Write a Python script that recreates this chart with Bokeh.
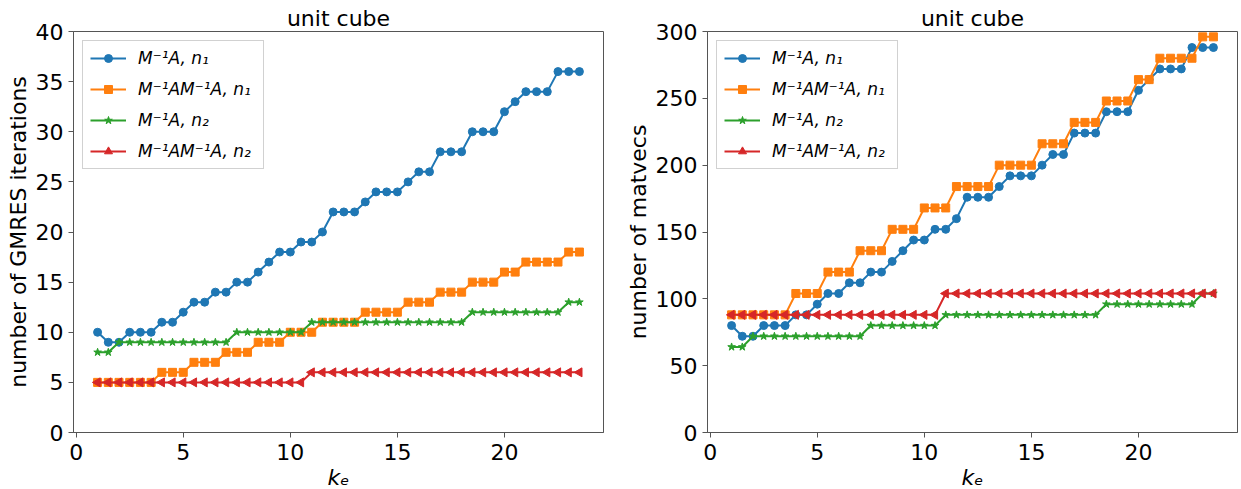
import math
from bokeh.plotting import figure
from bokeh.layouts import row
from bokeh.models import Range1d, FixedTicker, Legend, LegendItem
from bokeh.embed import file_html
from bokeh.resources import INLINE

# ---------------- data ----------------
ke = [1.0, 1.5, 2.0, 2.5, 3.0, 3.5, 4.0, 4.5, 5.0, 5.5, 6.0, 6.5, 7.0, 7.5, 8.0, 8.5,
      9.0, 9.5, 10.0, 10.5, 11.0, 11.5, 12.0, 12.5, 13.0, 13.5, 14.0, 14.5, 15.0, 15.5,
      16.0, 16.5, 17.0, 17.5, 18.0, 18.5, 19.0, 19.5, 20.0, 20.5, 21.0, 21.5, 22.0, 22.5,
      23.0, 23.5]

# left panel: number of GMRES iterations
gmres_A_n1 = [10, 9, 9, 10, 10, 10, 11, 11, 12, 13, 13, 14, 14, 15, 15, 16, 17, 18, 18, 19,
              19, 20, 22, 22, 22, 23, 24, 24, 24, 25, 26, 26, 28, 28, 28, 30, 30, 30, 32, 33,
              34, 34, 34, 36, 36, 36]
gmres_AA_n1 = [5, 5, 5, 5, 5, 5, 6, 6, 6, 7, 7, 7, 8, 8, 8, 9, 9, 9, 10, 10,
               10, 11, 11, 11, 11, 12, 12, 12, 12, 13, 13, 13, 14, 14, 14, 15, 15, 15, 16, 16,
               17, 17, 17, 17, 18, 18]
gmres_A_n2 = [8, 8, 9, 9, 9, 9, 9, 9, 9, 9, 9, 9, 9, 10, 10, 10, 10, 10, 10, 10,
              11, 11, 11, 11, 11, 11, 11, 11, 11, 11, 11, 11, 11, 11, 11, 12, 12, 12, 12, 12,
              12, 12, 12, 12, 13, 13]
gmres_AA_n2 = [5, 5, 5, 5, 5, 5, 5, 5, 5, 5, 5, 5, 5, 5, 5, 5, 5, 5, 5, 5,
               6, 6, 6, 6, 6, 6, 6, 6, 6, 6, 6, 6, 6, 6, 6, 6, 6, 6, 6, 6,
               6, 6, 6, 6, 6, 6]

# right panel: number of matvecs
mv_A_n1 = [80, 72, 72, 80, 80, 80, 88, 88, 96, 104, 104, 112, 112, 120, 120, 128, 136, 144,
           144, 152, 152, 160, 176, 176, 176, 184, 192, 192, 192, 200, 208, 208, 224, 224,
           224, 240, 240, 240, 256, 264, 272, 272, 272, 288, 288, 288]
mv_AA_n1 = [88, 88, 88, 88, 88, 88, 104, 104, 104, 120, 120, 120, 136, 136, 136, 152, 152,
            152, 168, 168, 168, 184, 184, 184, 184, 200, 200, 200, 200, 216, 216, 216, 232,
            232, 232, 248, 248, 248, 264, 264, 280, 280, 280, 280, 296, 296]
mv_A_n2 = [64, 64, 72, 72, 72, 72, 72, 72, 72, 72, 72, 72, 72, 80, 80, 80, 80, 80, 80, 80,
           88, 88, 88, 88, 88, 88, 88, 88, 88, 88, 88, 88, 88, 88, 88, 96, 96, 96, 96, 96,
           96, 96, 96, 96, 104, 104]
mv_AA_n2 = [88, 88, 88, 88, 88, 88, 88, 88, 88, 88, 88, 88, 88, 88, 88, 88, 88, 88, 88, 88,
            104, 104, 104, 104, 104, 104, 104, 104, 104, 104, 104, 104, 104, 104, 104, 104,
            104, 104, 104, 104, 104, 104, 104, 104, 104, 104]

series_labels = ["M\u207b\u00b9A, n\u2081", "M\u207b\u00b9AM\u207b\u00b9A, n\u2081",
                 "M\u207b\u00b9A, n\u2082", "M\u207b\u00b9AM\u207b\u00b9A, n\u2082"]
series_colors = ["#1f77b4", "#ff7f0e", "#2ca02c", "#d62728"]
series_markers = ["circle", "square", "star", "triangle"]
series_sizes = [8, 8, 8, 9]
series_angles = [0, 0, 0, math.pi / 2]

x_ticks = [0, 5, 10, 15, 20]
left_yticks = [0, 5, 10, 15, 20, 25, 30, 35, 40]
right_yticks = [0, 50, 100, 150, 200, 250, 300]
panel_title = "unit cube"

FONT = "DejaVu Sans"


def make_fig(title, ylabel, ymax, yticks, ys, bl, br):
    p = figure(frame_width=530, frame_height=401,
               x_range=Range1d(-0.125, 24.625), y_range=Range1d(0, ymax),
               output_backend="svg", toolbar_location=None,
               min_border_left=bl, min_border_right=br,
               min_border_top=31, min_border_bottom=57, title=title)
    p.title.text_font = FONT
    p.title.text_font_size = "22px"
    p.title.text_font_style = "normal"
    p.title.align = "center"
    p.title.text_color = "#000000"
    p.title.standoff = 1
    p.title.offset = 0
    p.xgrid.visible = False
    p.ygrid.visible = False
    p.outline_line_color = "#555555"
    p.outline_line_width = 1
    p.background_fill_color = "white"
    p.border_fill_color = "white"

    for ax in (p.xaxis, p.yaxis):
        ax.axis_line_color = "#555555"
        ax.major_tick_line_color = "#555555"
        ax.major_tick_out = 5
        ax.major_tick_in = 0
        ax.minor_tick_line_color = None
        ax.major_label_text_font = FONT
        ax.major_label_text_font_size = "22px"
        ax.major_label_text_color = "#000000"
        ax.axis_label_text_font = FONT
        ax.axis_label_text_font_size = "22px"
        ax.axis_label_text_color = "#000000"

    p.xaxis.ticker = FixedTicker(ticks=x_ticks)
    p.yaxis.ticker = FixedTicker(ticks=yticks)
    p.xaxis.major_label_standoff = 6
    p.yaxis.major_label_standoff = 5
    p.xaxis.axis_label = "k\u2091"
    p.xaxis.axis_label_text_font_style = "italic"
    p.xaxis.axis_label_standoff = 2
    p.yaxis.axis_label = ylabel
    p.yaxis.axis_label_text_font_style = "normal"
    p.yaxis.axis_label_standoff = 2

    items = []
    for y, lab, c, m, s, a in zip(ys, series_labels, series_colors, series_markers,
                                  series_sizes, series_angles):
        r1 = p.line(ke, y, line_color=c, line_width=2)
        r2 = p.scatter(ke, y, marker=m, size=s, angle=a, fill_color=c, line_color=c)
        items.append(LegendItem(label=lab, renderers=[r1, r2]))

    leg = Legend(items=items, location="top_left", margin=9, padding=7,
                 spacing=11, glyph_width=36, glyph_height=20, label_height=20,
                 label_standoff=12, label_width=118,
                 label_text_font=FONT, label_text_font_size="17px",
                 label_text_font_style="italic", label_text_color="#000000",
                 border_line_color="#cccccc", border_line_alpha=0.9,
                 background_fill_color="white", background_fill_alpha=0.8)
    p.add_layout(leg)
    return p


p1 = make_fig(panel_title, "number of GMRES iterations", 40, left_yticks,
              [gmres_A_n1, gmres_AA_n1, gmres_A_n2, gmres_AA_n2], 73, 10)
p2 = make_fig(panel_title, "number of matvecs", 300, right_yticks,
              [mv_A_n1, mv_AA_n1, mv_A_n2, mv_AA_n2], 94, 4)

layout = row(p1, p2, spacing=0)

open("out.html", "w").write(file_html(layout, INLINE))
